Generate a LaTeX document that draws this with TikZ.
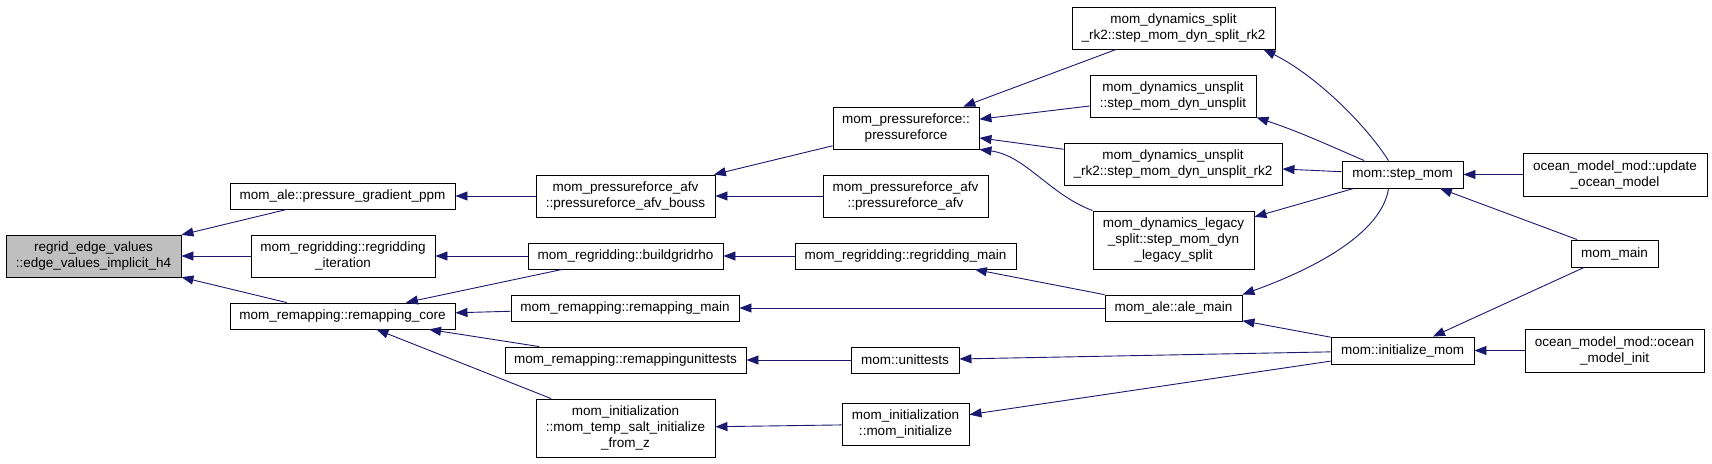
\documentclass[tikz,border=0pt]{standalone}
\usepackage{fontspec}
\setmainfont{Liberation Sans}
\usetikzlibrary{arrows.meta,calc}
\definecolor{edgeblue}{HTML}{191970}
\definecolor{focusgray}{HTML}{BFBFBF}
\tikzset{
  fn/.style={draw=black, line width=0.9pt, fill=white, inner sep=0pt, align=center,
    font=\fontsize{13.5}{16}\selectfont},
  focus/.style={fn, fill=focusgray},
  call/.style={draw=edgeblue, line width=0.9pt, -{Triangle[length=12pt,width=9pt]}},
}
\begin{document}
\begin{tikzpicture}[x=1pt,y=-1pt]
\useasboundingbox[fill=white] (0,0) rectangle (1712,463);
% column 1
\node[focus, minimum width=175pt, minimum height=42pt] (regrid) at (93.5,256) {regrid\_edge\_values\\::edge\_values\_implicit\_h4};
% column 2
\node[fn, minimum width=225pt, minimum height=26pt] (ppm) at (342.5,196) {mom\_ale::pressure\_gradient\_ppm};
\node[fn, minimum width=184pt, minimum height=42pt] (iter) at (343,256) {mom\_regridding::regridding\\\_iteration};
\node[fn, minimum width=225pt, minimum height=26pt] (rcore) at (342.5,316) {mom\_remapping::remapping\_core};
% column 3
\node[fn, minimum width=179pt, minimum height=42pt] (bouss) at (625.5,196) {mom\_pressureforce\_afv\\::pressureforce\_afv\_bouss};
\node[fn, minimum width=195pt, minimum height=26pt] (build) at (625.5,256) {mom\_regridding::buildgridrho};
\node[fn, minimum width=228pt, minimum height=26pt] (rmain) at (625,308) {mom\_remapping::remapping\_main};
\node[fn, minimum width=241pt, minimum height=26pt] (rtests) at (625.5,360) {mom\_remapping::remappingunittests};
\node[fn, minimum width=179pt, minimum height=58pt] (tsinit) at (625.5,428) {mom\_initialization\\::mom\_temp\_salt\_initialize\\\_from\_z};
% column 4
\node[fn, minimum width=146pt, minimum height=42pt] (pf) at (906,128) {mom\_pressureforce::\\pressureforce};
\node[fn, minimum width=165pt, minimum height=42pt] (afv) at (905.5,196) {mom\_pressureforce\_afv\\::pressureforce\_afv};
\node[fn, minimum width=221pt, minimum height=26pt] (regmain) at (905.5,256) {mom\_regridding::regridding\_main};
\node[fn, minimum width=108pt, minimum height=26pt] (unit) at (905,360) {mom::unittests};
\node[fn, minimum width=127pt, minimum height=42pt] (minit) at (905.5,424) {mom\_initialization\\::mom\_initialize};
% column 5
\node[fn, minimum width=203pt, minimum height=42pt] (split) at (1173.5,28) {mom\_dynamics\_split\\\_rk2::step\_mom\_dyn\_split\_rk2};
\node[fn, minimum width=166pt, minimum height=42pt] (unsplit) at (1173,96) {mom\_dynamics\_unsplit\\::step\_mom\_dyn\_unsplit};
\node[fn, minimum width=218pt, minimum height=42pt] (unsrk2) at (1173,164) {mom\_dynamics\_unsplit\\\_rk2::step\_mom\_dyn\_unsplit\_rk2};
\node[fn, minimum width=161pt, minimum height=58pt] (legacy) at (1173.5,240) {mom\_dynamics\_legacy\\\_split::step\_mom\_dyn\\\_legacy\_split};
\node[fn, minimum width=137pt, minimum height=26pt] (ale) at (1173.5,308) {mom\_ale::ale\_main};
% column 6
\node[fn, minimum width=121pt, minimum height=27pt] (step) at (1402.5,174.5) {mom::step\_mom};
\node[fn, minimum width=143pt, minimum height=27pt] (initmom) at (1402.5,350.5) {mom::initialize\_mom};
% column 7
\node[fn, minimum width=184pt, minimum height=43pt] (update) at (1615,174.5) {ocean\_model\_mod::update\\\_ocean\_model};
\node[fn, minimum width=87pt, minimum height=27pt] (mommain) at (1614.5,253.5) {mom\_main};
\node[fn, minimum width=179pt, minimum height=43pt] (oinit) at (1614.5,350.5) {ocean\_model\_mod::ocean\\\_model\_init};
% edges (caller -> callee)
\draw[call] (ppm) -- (regrid);
\draw[call] (iter) -- (regrid);
\draw[call] (rcore) -- (regrid);
\draw[call] (bouss) -- (ppm);
\draw[call] (build) -- (iter);
\draw[call] (build) -- (rcore);
\draw[call] (rmain) -- (rcore);
\draw[call] (rtests) -- (rcore);
\draw[call] (tsinit) -- (rcore);
\draw[call] (pf) -- (bouss);
\draw[call] (afv) -- (bouss);
\draw[call] (regmain) -- (build);
\draw[call] (ale) -- (regmain);
\draw[call] (ale) -- (rmain);
\draw[call] (unit) -- (rtests);
\draw[call] (minit) -- (tsinit);
\draw[call] (split) -- (pf);
\draw[call] (unsplit) -- (pf);
\draw[call] (unsrk2) -- (pf);
\draw[call] (legacy.north west) .. controls +(-43,-16) and +(46,6) .. (pf.south east);
\draw[call] (step.135) .. controls +(-28,-43) and +(47,23) .. ($(split.south east)+(-12,0)$);
\draw[call] (step.160) .. controls +(-35,-15) and +(45,15) .. (unsplit.south east);
\draw[call] (step) -- (unsrk2);
\draw[call] (step) -- (legacy);
\draw[call] (step.-135) .. controls +(-8,52) and +(50,-18) .. (ale.north east);
\draw[call] (initmom) -- (ale);
\draw[call] (initmom) -- (unit);
\draw[call] (initmom) -- (minit);
\draw[call] (update) -- (step);
\draw[call] (mommain) -- (step);
\draw[call] (mommain) -- (initmom);
\draw[call] (oinit) -- (initmom);
\end{tikzpicture}
\end{document}
